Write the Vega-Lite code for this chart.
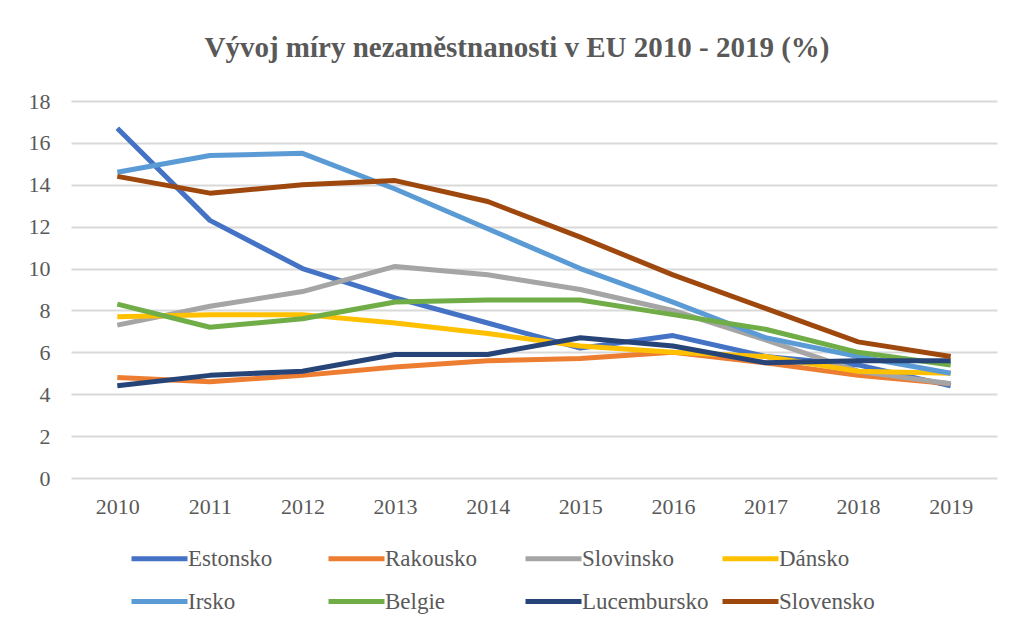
{
  "$schema": "https://vega.github.io/schema/vega-lite/v6.json",
  "autosize": "none",
  "width": 926,
  "height": 377,
  "padding": {"left": 71, "top": 101, "right": 17, "bottom": 148},
  "background": "white",
  "title": {
    "text": "Vývoj míry nezaměstnanosti v EU 2010 - 2019 (%)",
    "font": "'Liberation Serif', 'Times New Roman', serif",
    "fontSize": 29,
    "fontWeight": "bold",
    "color": "#595959",
    "anchor": "middle",
    "frame": "group",
    "dx": -17,
    "offset": 27
  },
  "config": {
    "view": {"stroke": null},
    "axis": {
      "labelFont": "'Liberation Serif', 'Times New Roman', serif",
      "labelFontSize": 22,
      "labelColor": "#595959",
      "ticks": false,
      "domain": false,
      "title": null
    },
    "legend": {
      "labelFont": "'Liberation Serif', 'Times New Roman', serif",
      "labelFontSize": 23,
      "labelColor": "#595959"
    }
  },
  "data": {
    "values": [
      {"zeme": "Estonsko", "rok": "2010", "hodnota": 16.7},
      {"zeme": "Estonsko", "rok": "2011", "hodnota": 12.3},
      {"zeme": "Estonsko", "rok": "2012", "hodnota": 10.0},
      {"zeme": "Estonsko", "rok": "2013", "hodnota": 8.6},
      {"zeme": "Estonsko", "rok": "2014", "hodnota": 7.4},
      {"zeme": "Estonsko", "rok": "2015", "hodnota": 6.2},
      {"zeme": "Estonsko", "rok": "2016", "hodnota": 6.8},
      {"zeme": "Estonsko", "rok": "2017", "hodnota": 5.8},
      {"zeme": "Estonsko", "rok": "2018", "hodnota": 5.4},
      {"zeme": "Estonsko", "rok": "2019", "hodnota": 4.4},
      {"zeme": "Rakousko", "rok": "2010", "hodnota": 4.8},
      {"zeme": "Rakousko", "rok": "2011", "hodnota": 4.6},
      {"zeme": "Rakousko", "rok": "2012", "hodnota": 4.9},
      {"zeme": "Rakousko", "rok": "2013", "hodnota": 5.3},
      {"zeme": "Rakousko", "rok": "2014", "hodnota": 5.6},
      {"zeme": "Rakousko", "rok": "2015", "hodnota": 5.7},
      {"zeme": "Rakousko", "rok": "2016", "hodnota": 6.0},
      {"zeme": "Rakousko", "rok": "2017", "hodnota": 5.5},
      {"zeme": "Rakousko", "rok": "2018", "hodnota": 4.9},
      {"zeme": "Rakousko", "rok": "2019", "hodnota": 4.5},
      {"zeme": "Slovinsko", "rok": "2010", "hodnota": 7.3},
      {"zeme": "Slovinsko", "rok": "2011", "hodnota": 8.2},
      {"zeme": "Slovinsko", "rok": "2012", "hodnota": 8.9},
      {"zeme": "Slovinsko", "rok": "2013", "hodnota": 10.1},
      {"zeme": "Slovinsko", "rok": "2014", "hodnota": 9.7},
      {"zeme": "Slovinsko", "rok": "2015", "hodnota": 9.0},
      {"zeme": "Slovinsko", "rok": "2016", "hodnota": 8.0},
      {"zeme": "Slovinsko", "rok": "2017", "hodnota": 6.6},
      {"zeme": "Slovinsko", "rok": "2018", "hodnota": 5.1},
      {"zeme": "Slovinsko", "rok": "2019", "hodnota": 4.5},
      {"zeme": "Dánsko", "rok": "2010", "hodnota": 7.7},
      {"zeme": "Dánsko", "rok": "2011", "hodnota": 7.8},
      {"zeme": "Dánsko", "rok": "2012", "hodnota": 7.8},
      {"zeme": "Dánsko", "rok": "2013", "hodnota": 7.4},
      {"zeme": "Dánsko", "rok": "2014", "hodnota": 6.9},
      {"zeme": "Dánsko", "rok": "2015", "hodnota": 6.3},
      {"zeme": "Dánsko", "rok": "2016", "hodnota": 6.0},
      {"zeme": "Dánsko", "rok": "2017", "hodnota": 5.8},
      {"zeme": "Dánsko", "rok": "2018", "hodnota": 5.1},
      {"zeme": "Dánsko", "rok": "2019", "hodnota": 5.0},
      {"zeme": "Irsko", "rok": "2010", "hodnota": 14.6},
      {"zeme": "Irsko", "rok": "2011", "hodnota": 15.4},
      {"zeme": "Irsko", "rok": "2012", "hodnota": 15.5},
      {"zeme": "Irsko", "rok": "2013", "hodnota": 13.8},
      {"zeme": "Irsko", "rok": "2014", "hodnota": 11.9},
      {"zeme": "Irsko", "rok": "2015", "hodnota": 10.0},
      {"zeme": "Irsko", "rok": "2016", "hodnota": 8.4},
      {"zeme": "Irsko", "rok": "2017", "hodnota": 6.7},
      {"zeme": "Irsko", "rok": "2018", "hodnota": 5.8},
      {"zeme": "Irsko", "rok": "2019", "hodnota": 5.0},
      {"zeme": "Belgie", "rok": "2010", "hodnota": 8.3},
      {"zeme": "Belgie", "rok": "2011", "hodnota": 7.2},
      {"zeme": "Belgie", "rok": "2012", "hodnota": 7.6},
      {"zeme": "Belgie", "rok": "2013", "hodnota": 8.4},
      {"zeme": "Belgie", "rok": "2014", "hodnota": 8.5},
      {"zeme": "Belgie", "rok": "2015", "hodnota": 8.5},
      {"zeme": "Belgie", "rok": "2016", "hodnota": 7.8},
      {"zeme": "Belgie", "rok": "2017", "hodnota": 7.1},
      {"zeme": "Belgie", "rok": "2018", "hodnota": 6.0},
      {"zeme": "Belgie", "rok": "2019", "hodnota": 5.4},
      {"zeme": "Lucembursko", "rok": "2010", "hodnota": 4.4},
      {"zeme": "Lucembursko", "rok": "2011", "hodnota": 4.9},
      {"zeme": "Lucembursko", "rok": "2012", "hodnota": 5.1},
      {"zeme": "Lucembursko", "rok": "2013", "hodnota": 5.9},
      {"zeme": "Lucembursko", "rok": "2014", "hodnota": 5.9},
      {"zeme": "Lucembursko", "rok": "2015", "hodnota": 6.7},
      {"zeme": "Lucembursko", "rok": "2016", "hodnota": 6.3},
      {"zeme": "Lucembursko", "rok": "2017", "hodnota": 5.5},
      {"zeme": "Lucembursko", "rok": "2018", "hodnota": 5.6},
      {"zeme": "Lucembursko", "rok": "2019", "hodnota": 5.6},
      {"zeme": "Slovensko", "rok": "2010", "hodnota": 14.4},
      {"zeme": "Slovensko", "rok": "2011", "hodnota": 13.6},
      {"zeme": "Slovensko", "rok": "2012", "hodnota": 14.0},
      {"zeme": "Slovensko", "rok": "2013", "hodnota": 14.2},
      {"zeme": "Slovensko", "rok": "2014", "hodnota": 13.2},
      {"zeme": "Slovensko", "rok": "2015", "hodnota": 11.5},
      {"zeme": "Slovensko", "rok": "2016", "hodnota": 9.7},
      {"zeme": "Slovensko", "rok": "2017", "hodnota": 8.1},
      {"zeme": "Slovensko", "rok": "2018", "hodnota": 6.5},
      {"zeme": "Slovensko", "rok": "2019", "hodnota": 5.8}
    ]
  },
  "mark": {"type": "line", "strokeWidth": 5, "strokeJoin": "round"},
  "encoding": {
    "x": {
      "field": "rok",
      "type": "ordinal",
      "scale": {"type": "point", "padding": 0.5},
      "axis": {"labelAngle": 0, "labelPadding": 18, "grid": false}
    },
    "y": {
      "field": "hodnota",
      "type": "quantitative",
      "scale": {"domain": [0, 18], "nice": false},
      "axis": {
        "values": [0, 2, 4, 6, 8, 10, 12, 14, 16, 18],
        "labelPadding": 21,
        "grid": true,
        "gridColor": "#d9d9d9",
        "gridWidth": 2
      }
    },
    "color": {
      "field": "zeme",
      "type": "nominal",
      "scale": {
        "domain": ["Estonsko", "Rakousko", "Slovinsko", "Dánsko", "Irsko", "Belgie", "Lucembursko", "Slovensko"],
        "range": ["#4472C4", "#ED7D31", "#A5A5A5", "#FFC000", "#5B9BD5", "#70AD47", "#264478", "#9E480E"]
      },
      "legend": {
        "title": null,
        "orient": "none",
        "legendX": 58,
        "legendY": 427,
        "direction": "horizontal",
        "columns": 4,
        "gridAlign": "all",
        "columnPadding": 3,
        "rowPadding": -18,
        "symbolType": "stroke",
        "symbolSize": 3136,
        "symbolStrokeWidth": 5,
        "labelOffset": -2
      }
    },
    "order": {"field": "rok"}
  }
}
